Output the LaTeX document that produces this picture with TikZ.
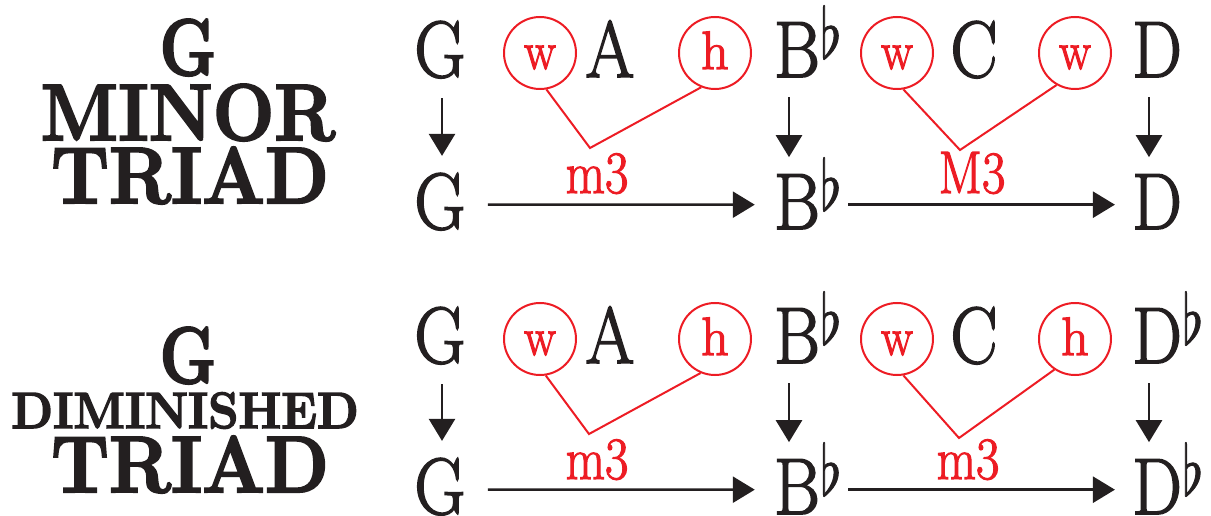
\documentclass[tikz,border=0pt]{standalone}
\usepackage{graphicx}
\usetikzlibrary{arrows.meta}
\definecolor{ink}{HTML}{231F20}
\definecolor{rd}{HTML}{ED1C24}
\newcommand\hsc[2]{\scalebox{#1}[1]{#2}}
\newcommand\heavy[2]{\special{pdf:literal direct 2 Tr #1 w}#2\special{pdf:literal direct 0 Tr}}
\newcommand\flt{\raisebox{19pt}{\scalebox{5.4}[7.0]{\heavy{0.15}{$\flat$}}}}
\begin{document}
\begin{tikzpicture}[x=1pt,y=-1pt,
  note/.style={anchor=base,inner sep=0pt,text=ink,font=\fontsize{80}{80}\selectfont},
  flatsign/.style={anchor=base west,inner sep=0pt,text=ink,font=\normalsize},
  title/.style={anchor=base,inner sep=0pt,text=ink,font=\fontsize{80}{80}\selectfont\bfseries},
  smalltitle/.style={anchor=base,inner sep=0pt,text=ink,font=\fontsize{51}{51}\selectfont\bfseries},
  circ/.style={circle,draw=rd,line width=2pt,minimum size=72pt,inner sep=0pt,text=rd,
    text height=32pt,text depth=0pt,font=\fontsize{54}{54}\selectfont},
  interval/.style={anchor=base,inner sep=0pt,text=rd,font=\fontsize{60}{60}\selectfont},
  arr/.style={-{Triangle[length=22pt,width=26pt]},line width=2.6pt,draw=ink},
  vline/.style={draw=rd,line width=2pt},
]
\useasboundingbox (0,0) rectangle (1211,516);

% titles
\node[title] (t1g) at (188,75) {\hsc{0.8}{\heavy{2.2}{G}}};
\node[title] (t1m) at (188,140) {\hsc{0.91}{\heavy{2.2}{MINOR}}};
\node[title] (t1t) at (190,203) {\hsc{0.925}{\heavy{2.2}{TRIAD}}};
\node[title] (t2g) at (188,383) {\hsc{0.8}{\heavy{2.2}{G}}};
\node[smalltitle] (t2d) at (185,428) {\hsc{0.95}{\heavy{1.5}{DIMINISHED}}};
\node[title] (t2t) at (190,492) {\hsc{0.925}{\heavy{2.2}{TRIAD}}};

% ---- upper diagram ----
\node[note] (a1g) at (440,77) {\hsc{0.88}{\heavy{1.7}{G}}};
\node[circ] (a1w) at (540,53) {\hsc{0.88}{\heavy{1.2}{w}}};
\node[note] (a1a) at (610,77) {\hsc{0.88}{\heavy{1.7}{A}}};
\node[circ] (a1h) at (715,53) {\heavy{1.2}{h}};
\node[note] (a1b) at (797,77) {\hsc{0.88}{\heavy{1.7}{B}}};
\node[flatsign] (a1bf) at (a1b.base east) {\flt};
\node[circ] (a1w2) at (897,53) {\hsc{0.88}{\heavy{1.2}{w}}};
\node[note] (a1c) at (974,77) {\hsc{0.88}{\heavy{1.7}{C}}};
\node[circ] (a1w3) at (1075,53) {\hsc{0.88}{\heavy{1.2}{w}}};
\node[note] (a1d) at (1157,77) {\hsc{0.88}{\heavy{1.7}{D}}};

\node[note] (a2g) at (440,229) {\hsc{0.88}{\heavy{1.7}{G}}};
\node[note] (a2b) at (797,229) {\hsc{0.88}{\heavy{1.7}{B}}};
\node[flatsign] (a2bf) at (a2b.base east) {\flt};
\node[note] (a2d) at (1157,229) {\hsc{0.88}{\heavy{1.7}{D}}};

\node[interval] (i1) at (597,193) {\hsc{0.85}{\heavy{1.2}{m3}}};
\node[interval] (i2) at (972,193) {\hsc{0.85}{\heavy{1.2}{M3}}};

\coordinate (v1) at (590,148);
\coordinate (v2) at (960,150);
\draw[vline] (a1w.280) -- (v1) -- (a1h.248);
\draw[vline] (a1w2.280) -- (v2) -- (a1w3.240);

\draw[arr,shorten <=20pt,shorten >=17pt] ([xshift=2pt]a1g.south) -- ([xshift=2pt]a2g.north);
\draw[arr,shorten <=20pt,shorten >=17pt] ([xshift=-8pt]a1b.south) -- ([xshift=-8pt]a2b.north);
\draw[arr,shorten <=20pt,shorten >=17pt] ([xshift=-8pt]a1d.south) -- ([xshift=-8pt]a2d.north);
\draw[arr,shorten <=22pt,shorten >=19pt] ([yshift=-3pt]a2g.east) -- ([yshift=-3pt]a2b.west);
\draw[arr,shorten <=28pt,shorten >=17pt] ([yshift=-3pt]a2b.east) -- ([yshift=-3pt]a2d.west);

% ---- lower diagram ----
\node[note] (b1g) at (440,363) {\hsc{0.88}{\heavy{1.7}{G}}};
\node[circ] (b1w) at (540,339) {\hsc{0.88}{\heavy{1.2}{w}}};
\node[note] (b1a) at (610,363) {\hsc{0.88}{\heavy{1.7}{A}}};
\node[circ] (b1h) at (715,339) {\heavy{1.2}{h}};
\node[note] (b1b) at (797,363) {\hsc{0.88}{\heavy{1.7}{B}}};
\node[flatsign] (b1bf) at (b1b.base east) {\flt};
\node[circ] (b1w2) at (897,339) {\hsc{0.88}{\heavy{1.2}{w}}};
\node[note] (b1c) at (974,363) {\hsc{0.88}{\heavy{1.7}{C}}};
\node[circ] (b1h2) at (1075,339) {\heavy{1.2}{h}};
\node[note] (b1d) at (1157,363) {\hsc{0.88}{\heavy{1.7}{D}}};
\node[flatsign] (b1df) at (b1d.base east) {\flt};

\node[note] (b2g) at (440,514) {\hsc{0.88}{\heavy{1.7}{G}}};
\node[note] (b2b) at (797,514) {\hsc{0.88}{\heavy{1.7}{B}}};
\node[flatsign] (b2bf) at (b2b.base east) {\flt};
\node[note] (b2d) at (1157,514) {\hsc{0.88}{\heavy{1.7}{D}}};
\node[flatsign] (b2df) at (b2d.base east) {\flt};

\node[interval] (i3) at (597,479) {\hsc{0.85}{\heavy{1.2}{m3}}};
\node[interval] (i4) at (968,479) {\hsc{0.85}{\heavy{1.2}{m3}}};

\coordinate (v3) at (589,434);
\coordinate (v4) at (959,438);
\draw[vline] (b1w.279) -- (v3) -- (b1h.247);
\draw[vline] (b1w2.280) -- (v4) -- (b1h2.236);

\draw[arr,shorten <=20pt,shorten >=17pt] ([xshift=2pt]b1g.south) -- ([xshift=2pt]b2g.north);
\draw[arr,shorten <=20pt,shorten >=17pt] ([xshift=-8pt]b1b.south) -- ([xshift=-8pt]b2b.north);
\draw[arr,shorten <=20pt,shorten >=17pt] ([xshift=-8pt]b1d.south) -- ([xshift=-8pt]b2d.north);
\draw[arr,shorten <=22pt,shorten >=19pt] ([yshift=-3pt]b2g.east) -- ([yshift=-3pt]b2b.west);
\draw[arr,shorten <=28pt,shorten >=17pt] ([yshift=-3pt]b2b.east) -- ([yshift=-3pt]b2d.west);
\end{tikzpicture}
\end{document}
